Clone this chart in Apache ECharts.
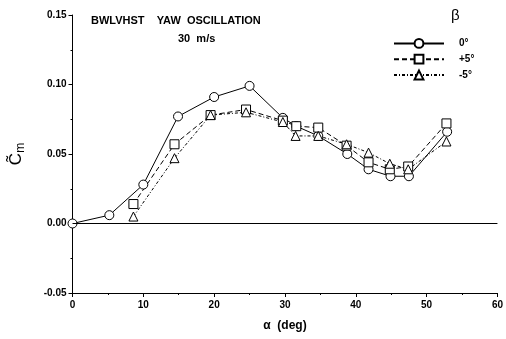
<!DOCTYPE html>
<html><head><meta charset="utf-8">
<script src="https://cdn.jsdelivr.net/npm/echarts@6/dist/echarts.min.js"></script>
<style>html,body{margin:0;padding:0;background:#fff}#c{width:506px;height:339px}</style>
</head><body><div id="c"></div>
<script>
const seriesNames = ['0°', '+5°', '-5°'];
const beta0 = [[0,0],[5.2,0.006],[10,0.028],[14.9,0.077],[20,0.091],[25,0.099],[29.7,0.076],[31.6,0.070],[34.7,0.063],[38.8,0.050],[41.8,0.039],[44.9,0.034],[47.5,0.034],[52.9,0.066]];
const betaP5 = [[8.6,0.014],[14.4,0.057],[19.5,0.078],[24.5,0.082],[29.7,0.074],[31.6,0.070],[34.7,0.069],[38.7,0.056],[41.8,0.044],[44.8,0.039],[47.4,0.041],[52.8,0.072]];
const betaM5 = [[8.6,0.005],[14.4,0.047],[19.5,0.078],[24.5,0.080],[29.7,0.073],[31.5,0.063],[34.7,0.063],[38.7,0.057],[41.8,0.051],[44.8,0.043],[47.4,0.039],[52.8,0.059]];
const xTicks = [0,10,20,30,40,50,60];
const yTicks = [-0.05,0,0.05,0.10,0.15];

const F = 'Liberation Sans, Arial, sans-serif';
const chart = echarts.init(document.getElementById('c'), null, {renderer:'canvas'});
function mk(name, data, sym, dash){
  return {
    name, type:'line', data, symbol:sym, symbolSize:9,
    lineStyle:{color:'#000', width:1, type:dash},
    itemStyle:{color:'#fff', borderColor:'#000', borderWidth:1},
    emphasis:{disabled:true}, z: 3
  };
}
chart.setOption({
  animation:false,
  textStyle:{fontFamily:F},
  grid:{left:72, right:4, top:15, bottom:46, containLabel:false},
  graphic:[
    {type:'text', left:91, top:15, style:{text:'BWLVHST    YAW  OSCILLATION', font:'bold 11px '+F, fill:'#000'}},
    {type:'text', left:178, top:33, style:{text:'30  m/s', font:'bold 11px '+F, fill:'#000'}},
    {type:'text', left:451, top:8, style:{text:'β', font:'15px '+F, fill:'#000'}}
  ],
  legend:{
    orient:'vertical', left:388, top:33, itemWidth:50, itemHeight:11, itemGap:5,
    data:seriesNames, textStyle:{fontSize:10, fontWeight:'bold', fontFamily:F, color:'#000', padding:[0,0,0,10]},
    selectedMode:false
  },
  xAxis:{
    type:'value', min:0, max:60, interval:10,
    name:'α  (deg)', nameLocation:'middle', nameGap:27,
    nameTextStyle:{fontSize:12, fontWeight:'bold', color:'#000', fontFamily:F},
    axisLine:{onZero:false, lineStyle:{color:'#000'}},
    axisTick:{length:4, lineStyle:{color:'#000'}},
    minorTick:{show:true, splitNumber:2, length:2, lineStyle:{color:'#000'}},
    axisLabel:{fontSize:10, fontWeight:'bold', color:'#000', margin:7},
    splitLine:{show:false}
  },
  yAxis:{
    type:'value', min:-0.05, max:0.15, interval:0.05,
    name:'{c|C\u0303}{m|m}', nameLocation:'middle', nameGap:46, nameRotate:90,
    nameTextStyle:{rich:{c:{fontSize:17, fontFamily:F, color:'#000'}, m:{fontSize:12, fontFamily:F, color:'#000', padding:[8,0,0,0]}}},
    axisLine:{show:true, lineStyle:{color:'#000'}},
    axisTick:{show:true, length:4, lineStyle:{color:'#000'}},
    minorTick:{show:true, splitNumber:2, length:2, lineStyle:{color:'#000'}},
    axisLabel:{fontSize:10, fontWeight:'bold', color:'#000', margin:6,
      formatter:v=>v.toFixed(2)},
    splitLine:{show:false}
  },
  series:[
    Object.assign(mk(seriesNames[0], beta0, 'circle', 'solid'), {
      markLine:{silent:true, symbol:'none', label:{show:false}, lineStyle:{color:'#000', width:1, type:'solid'}, data:[{yAxis:0}]}
    }),
    mk(seriesNames[1], betaP5, 'rect', [5,3]),
    mk(seriesNames[2], betaM5, 'triangle', [3,2,1,2])
  ]
});
</script></body></html>
